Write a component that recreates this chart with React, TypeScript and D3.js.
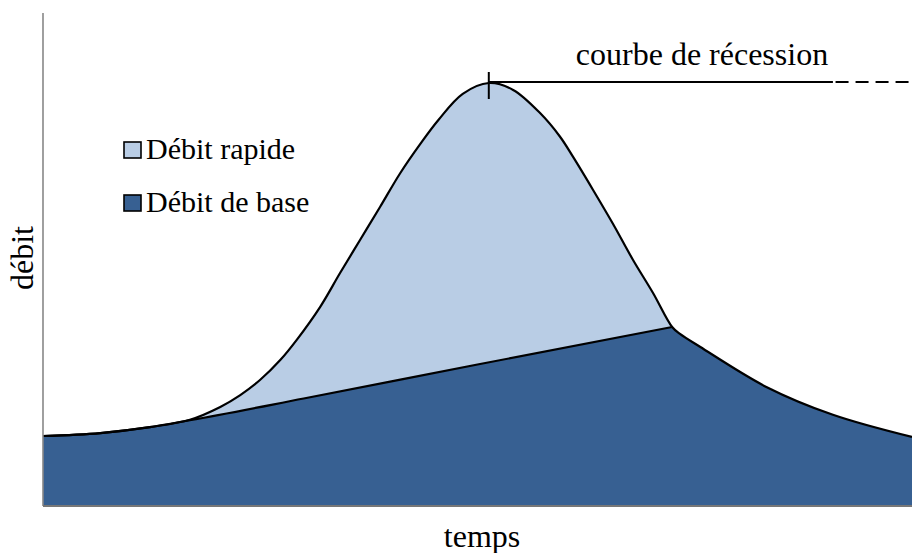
import { useEffect, useRef } from "react";
import * as d3 from "d3";

// time (arbitrary units 0..100) and flow (0..100)
const baseRiseT = [0, 6.6, 12.3, 16.9, 30, 50, 72.4];
const baseRiseV = [14.2, 14.8, 16.0, 17.4, 21.8, 28.7, 36.3];

const baseFallT = [72.4, 73.3, 75.6, 83.3, 90.9, 100];
const baseFallV = [36.3, 34.9, 32.3, 24.1, 18.5, 14.0];

const quickT = [16.9, 20.4, 22.7, 25.0, 27.3, 29.2, 31.9, 34.2, 36.5, 38.8, 41.1, 43.4, 45.5, 48.3, 51.3, 54.1, 57.2, 59.5, 61.0, 63.3, 65.6, 67.9, 70.2, 72.4];
const quickV = [17.5, 20.1, 22.5, 25.6, 29.6, 33.7, 40.4, 47.3, 54.0, 60.7, 67.5, 73.4, 78.3, 83.6, 85.8, 84.4, 79.7, 74.9, 70.8, 64.1, 57.2, 49.9, 43.2, 36.3];

const legendLabels = ["Débit rapide", "Débit de base"];
const recessionLabel = "courbe de récession";
const recessionSolidEnd = 90.9;
const recessionDashStart = 86.6;

function App() {
  const ref = useRef<SVGSVGElement | null>(null);
  const width = 912;
  const height = 553;

  useEffect(() => {
    const svg = d3.select(ref.current);
    svg.selectAll("*").remove();

    const x = d3.scaleLinear().domain([0, 100]).range([43, 912]);
    const y = d3.scaleLinear().domain([0, 100]).range([506, 13]);

    const zip = (ts: number[], vs: number[]) => ts.map((t, i) => ({ t, v: vs[i] }));
    const baseRise = zip(baseRiseT, baseRiseV);
    const baseFall = zip(baseFallT, baseFallV);
    const quick = zip(quickT, quickV);
    const total = [
      ...baseRise.filter(d => d.t < quickT[0]),
      ...quick,
      ...baseFall.slice(1),
    ];

    const line = d3.line<{ t: number; v: number }>()
      .x(d => x(d.t))
      .y(d => y(d.v))
      .curve(d3.curveMonotoneX);
    const smooth = d3.line<{ t: number; v: number }>()
      .x(d => x(d.t))
      .y(d => y(d.v))
      .curve(d3.curveCatmullRom.alpha(0.5));

    const font = "'Liberation Serif', 'Times New Roman', serif";
    const light = "#b9cde5";
    const dark = "#376092";

    // total flow area
    const totalLine = smooth(total) as string;
    const closeArea = (d: string) =>
      `${d}L${x(100)},${y(0)}L${x(0)},${y(0)}Z`;
    svg.append("path").attr("d", closeArea(totalLine)).attr("fill", light);

    // base flow area, rise and recession joined with a kink at the end of runoff
    const baseLine = (line(baseRise) as string) + (smooth(baseFall) as string).replace(/^M/, "L");
    svg.append("path").attr("d", closeArea(baseLine)).attr("fill", dark);

    svg.append("path").attr("d", totalLine).attr("fill", "none")
      .attr("stroke", "#000").attr("stroke-width", 2.2);
    svg.append("path").attr("d", line(baseRise) as string).attr("fill", "none")
      .attr("stroke", "#000").attr("stroke-width", 2.2);

    // axes
    svg.append("line")
      .attr("x1", x(0)).attr("x2", x(0)).attr("y1", y(100)).attr("y2", y(0))
      .attr("stroke", "#888").attr("stroke-width", 1.6);
    svg.append("line")
      .attr("x1", x(0)).attr("x2", x(100)).attr("y1", y(0)).attr("y2", y(0))
      .attr("stroke", "#777").attr("stroke-width", 2);

    // peak and recession annotation
    const peak = total.reduce((a, b) => (b.v > a.v ? b : a));
    const py = y(peak.v) - 1;
    svg.append("line")
      .attr("x1", x(peak.t)).attr("x2", x(peak.t)).attr("y1", py - 10).attr("y2", py + 17)
      .attr("stroke", "#000").attr("stroke-width", 2);
    svg.append("line")
      .attr("x1", x(peak.t)).attr("x2", x(recessionSolidEnd)).attr("y1", py).attr("y2", py)
      .attr("stroke", "#000").attr("stroke-width", 2);
    svg.append("line")
      .attr("x1", x(recessionDashStart)).attr("x2", x(100)).attr("y1", py).attr("y2", py)
      .attr("stroke", "#000").attr("stroke-width", 2).attr("stroke-dasharray", "13,7");
    svg.append("text")
      .attr("x", 702).attr("y", 65)
      .attr("text-anchor", "middle")
      .style("font-family", font).style("font-size", "32px")
      .text(recessionLabel);

    // legend
    const legend = svg.append("g");
    const items = legend.selectAll("g").data(legendLabels).join("g")
      .attr("transform", (_, i) => `translate(124, ${142 + i * 53})`);
    items.append("rect")
      .attr("width", 17).attr("height", 16)
      .attr("fill", (_, i) => (i === 0 ? light : dark))
      .attr("stroke", "#000").attr("stroke-width", 1.6);
    items.append("text")
      .attr("x", 22).attr("y", 17)
      .style("font-family", font).style("font-size", "30px")
      .text(d => d);

    // axis titles
    svg.append("text")
      .attr("x", 482).attr("y", 547)
      .attr("text-anchor", "middle")
      .style("font-family", font).style("font-size", "32px")
      .text("temps");
    svg.append("text")
      .attr("transform", "translate(33, 258) rotate(-90)")
      .attr("text-anchor", "middle")
      .style("font-family", font).style("font-size", "32px")
      .text("débit");
  }, []);

  return (
    <svg
      ref={ref}
      width={width}
      height={height}
      style={{ position: "absolute", left: 0, top: 0, background: "#fff" }}
    />
  );
}

export default App;
